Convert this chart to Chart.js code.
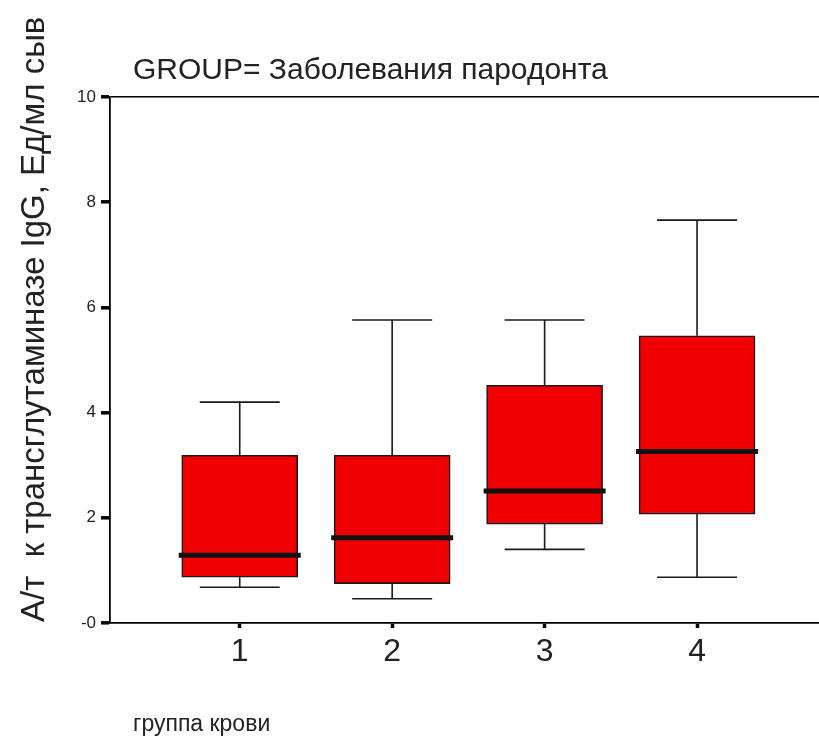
<!DOCTYPE html>
<html>
<head>
<meta charset="utf-8">
<style>
  html, body { margin: 0; padding: 0; background: #fff; }
</style>
<script src="https://cdn.jsdelivr.net/npm/chart.js@4/dist/chart.umd.min.js"></script>
</head>
<body>
<canvas id="chart" width="819" height="746"></canvas>
<script>
// Data (box plot per blood group)
var groups = [1, 2, 3, 4];
var whiskerLow = [0.68, 0.46, 1.40, 0.87];
var q1 = [0.87, 0.75, 1.88, 2.07];
var median = [1.29, 1.62, 2.51, 3.26];
var q3 = [3.19, 3.19, 4.52, 5.46];
var whiskerHigh = [4.20, 5.76, 5.76, 7.66];
var yTicks = [0, 2, 4, 6, 8, 10];
var yTickLabels = ['-0', '2', '4', '6', '8', '10'];

var titleText = 'GROUP= Заболевания пародонта';
var yTitleText = 'А/т  к трансглутаминазе IgG, Ед/мл сыв';
var xTitleText = 'группа крови';

var FONT = "'Liberation Sans', Arial, sans-serif";

document.addEventListener('DOMContentLoaded', function() {
    var boxData = groups.map(function(g, i) {
        return { x: g, y: [q1[i], q3[i]] };
    });

    // whiskers, medians and the free texts
    var boxPlot = {
        id: 'boxPlot',
        beforeDatasetsDraw: function(chart) {
            var ctx = chart.ctx, xs = chart.scales.x, ys = chart.scales.y;
            ctx.save();
            ctx.strokeStyle = '#1a1a1a';
            ctx.lineWidth = 1.6;
            groups.forEach(function(g, i) {
                var cx = xs.getPixelForValue(g);
                var yHi = ys.getPixelForValue(whiskerHigh[i]);
                var yLo = ys.getPixelForValue(whiskerLow[i]);
                ctx.beginPath();
                ctx.moveTo(cx, ys.getPixelForValue(q3[i]));
                ctx.lineTo(cx, yHi);
                ctx.moveTo(cx, ys.getPixelForValue(q1[i]));
                ctx.lineTo(cx, yLo);
                ctx.moveTo(cx - 40, yHi);
                ctx.lineTo(cx + 40, yHi);
                ctx.moveTo(cx - 40, yLo);
                ctx.lineTo(cx + 40, yLo);
                ctx.stroke();
            });
            ctx.restore();
        },
        afterDatasetsDraw: function(chart) {
            var ctx = chart.ctx, xs = chart.scales.x, ys = chart.scales.y;
            ctx.save();
            ctx.strokeStyle = '#111';
            ctx.lineWidth = 5;
            groups.forEach(function(g, i) {
                var cx = xs.getPixelForValue(g);
                var ym = ys.getPixelForValue(median[i]);
                ctx.beginPath();
                ctx.moveTo(cx - 61, ym);
                ctx.lineTo(cx + 61, ym);
                ctx.stroke();
            });
            ctx.restore();
        },
        afterDraw: function(chart) {
            var ctx = chart.ctx;
            ctx.save();
            ctx.fillStyle = '#222';
            ctx.textAlign = 'left';
            ctx.textBaseline = 'alphabetic';
            ctx.font = '30px ' + FONT;
            ctx.fillText(titleText, 133, 79);
            ctx.font = '23px ' + FONT;
            ctx.fillText(xTitleText, 133, 731);
            ctx.translate(35, 622);
            ctx.rotate(-Math.PI / 2);
            ctx.font = '33px ' + FONT;
            ctx.textBaseline = 'middle';
            ctx.fillText(yTitleText, 0, 0);
            ctx.restore();
        }
    };

    var ctx = document.getElementById('chart').getContext('2d');
    new Chart(ctx, {
        type: 'bar',
        data: {
            datasets: [{
                data: boxData,
                backgroundColor: '#f00000',
                borderColor: '#1a1a1a',
                borderWidth: 1.6,
                borderSkipped: false,
                barThickness: 116
            }]
        },
        options: {
            responsive: false,
            animation: false,
            layout: { padding: { top: 97, left: 0, right: 0, bottom: 0 } },
            plugins: {
                legend: { display: false },
                title: { display: false },
                tooltip: { enabled: false }
            },
            scales: {
                x: {
                    type: 'linear',
                    min: 0.149,
                    max: 4.80,
                    offset: false,
                    afterBuildTicks: function(scale) {
                        scale.ticks = groups.map(function(v) { return { value: v }; });
                    },
                    afterFit: function(scale) { scale.height = 123; },
                    ticks: {
                        color: '#222',
                        font: { family: FONT, size: 32 },
                        padding: 5,
                        autoSkip: false,
                        maxRotation: 0,
                        callback: function(v) { return String(v); }
                    },
                    grid: {
                        drawOnChartArea: false,
                        tickLength: 5,
                        tickWidth: 3.5,
                        tickColor: '#000',
                        offset: false
                    },
                    border: { color: '#000', width: 1.8 }
                },
                y: {
                    type: 'linear',
                    min: 0,
                    max: 10,
                    afterBuildTicks: function(scale) {
                        scale.ticks = yTicks.map(function(v) { return { value: v }; });
                    },
                    afterFit: function(scale) { scale.width = 110; },
                    ticks: {
                        color: '#222',
                        font: { family: FONT, size: 17 },
                        padding: 5,
                        callback: function(v) { return yTickLabels[yTicks.indexOf(v)]; }
                    },
                    grid: {
                        color: function(c) {
                            return c.tick && c.tick.value === 10 ? '#000' : 'rgba(0,0,0,0)';
                        },
                        lineWidth: 1.6,
                        tickLength: 9,
                        tickWidth: 3.5,
                        tickColor: '#000'
                    },
                    border: { color: '#000', width: 1.8 }
                }
            }
        },
        plugins: [boxPlot]
    });
});
</script>
</body>
</html>
